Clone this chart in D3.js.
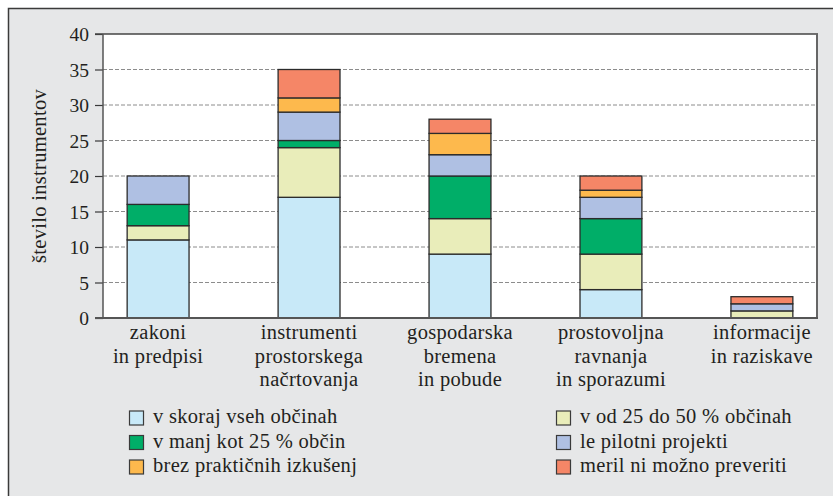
<!DOCTYPE html>
<html lang="sl">
<head>
  <meta charset="UTF-8">
  <title>Število instrumentov</title>
  <script src="https://d3js.org/d3.v7.min.js"></script>
  <style>
    body { margin: 0; background: #fff; }
  </style>
</head>
<body>
  <svg id="chart"></svg>
  <script>
    // categories (multi-line labels)
    const categories = [
      ["zakoni", "in predpisi"],
      ["instrumenti", "prostorskega", "načrtovanja"],
      ["gospodarska", "bremena", "in pobude"],
      ["prostovoljna", "ravnanja", "in sporazumi"],
      ["informacije", "in raziskave"]
    ];
    const seriesNames = [
      "v skoraj vseh občinah",
      "v od 25 do 50 % občinah",
      "v manj kot 25 % občin",
      "le pilotni projekti",
      "brez praktičnih izkušenj",
      "meril ni možno preveriti"
    ];
    // values per series, in category order
    const skorajVseh = [11, 17, 9, 4, 0];
    const od25do50 = [2, 7, 5, 5, 1];
    const manjKot25 = [3, 1, 6, 5, 0];
    const pilotni = [4, 4, 3, 3, 1];
    const brezIzkusenj = [0, 2, 3, 1, 0];
    const niPreveriti = [0, 4, 2, 2, 1];
    const yTicks = [0, 5, 10, 15, 20, 25, 30, 35, 40];

    const colors = ["#c8e9f8", "#e9edba", "#00ae68", "#afc0e3", "#fdb94d", "#f58667"];
    const seriesValues = [skorajVseh, od25do50, manjKot25, pilotni, brezIzkusenj, niPreveriti];

    const W = 833, H = 496;
    const plot = { left: 103, right: 817, top: 34, bottom: 318 };
    const FONT = "'Liberation Serif'";
    const LABEL_SIZE = "20.5px";

    const svg = d3.select("#chart").attr("width", W).attr("height", H);

    // grey panel
    svg.append("rect")
      .attr("x", 8.5).attr("y", 8.5)
      .attr("width", W + 20).attr("height", H + 20)
      .attr("fill", "#e6e7e8")
      .attr("stroke", "#3a3a3a").attr("stroke-width", 1.5);

    svg.append("rect")
      .attr("x", plot.left).attr("y", plot.top)
      .attr("width", plot.right - plot.left).attr("height", plot.bottom - plot.top)
      .attr("fill", "#fff");

    const keys = categories.map((c, i) => "c" + i);
    const table = keys.map((k, i) => {
      const row = { key: k };
      seriesNames.forEach((s, j) => row[s] = seriesValues[j][i]);
      return row;
    });
    const stacked = d3.stack().keys(seriesNames)(table);

    const x = d3.scaleBand()
      .domain(keys)
      .range([plot.left, plot.right])
      .paddingInner(0.59)
      .paddingOuter(0.16);

    const y = d3.scaleLinear()
      .domain([0, 40])
      .range([plot.bottom, plot.top]);

    // gridlines
    svg.append("g")
      .selectAll("line")
      .data(yTicks.filter(t => t > 0 && t < 40))
      .enter().append("line")
      .attr("x1", plot.left).attr("x2", plot.right)
      .attr("y1", d => y(d)).attr("y2", d => y(d))
      .attr("stroke", "#8c8c8c")
      .attr("stroke-width", 1)
      .attr("stroke-dasharray", "4,2");

    // y axis
    const yAxis = svg.append("g")
      .attr("transform", "translate(" + plot.left + ",0)")
      .call(d3.axisLeft(y).tickValues(yTicks).tickSize(8).tickPadding(6));
    yAxis.select(".domain").remove();
    yAxis.selectAll(".tick line").attr("stroke", "#3a3a3a").attr("stroke-width", 1.2);
    yAxis.selectAll(".tick text")
      .attr("dy", "0.34em")
      .style("font-size", "19.5px");

    // bars
    svg.append("g")
      .selectAll("g")
      .data(stacked)
      .enter().append("g")
      .attr("fill", (d, i) => colors[i])
      .selectAll("rect")
      .data(d => d.filter(p => p[1] > p[0]))
      .enter().append("rect")
      .attr("x", d => x(d.data.key))
      .attr("y", d => y(d[1]))
      .attr("width", x.bandwidth())
      .attr("height", d => y(d[0]) - y(d[1]))
      .attr("stroke", "#2b2b2b")
      .attr("stroke-width", 1.3);

    // plot frame
    svg.append("line")
      .attr("x1", plot.left - 8).attr("x2", plot.right + 1)
      .attr("y1", plot.top).attr("y2", plot.top)
      .attr("stroke", "#444").attr("stroke-width", 1.5);
    svg.append("line")
      .attr("x1", plot.right).attr("x2", plot.right)
      .attr("y1", plot.top).attr("y2", plot.bottom)
      .attr("stroke", "#666").attr("stroke-width", 2);
    svg.append("line")
      .attr("x1", plot.left).attr("x2", plot.left)
      .attr("y1", plot.top).attr("y2", plot.bottom)
      .attr("stroke", "#555").attr("stroke-width", 1.5);
    svg.append("line")
      .attr("x1", plot.left - 8).attr("x2", plot.right + 1)
      .attr("y1", plot.bottom).attr("y2", plot.bottom)
      .attr("stroke", "#555").attr("stroke-width", 2);

    // category labels
    const cat = svg.append("g").selectAll("text")
      .data(categories)
      .enter().append("text")
      .attr("class", "lbl")
      .attr("text-anchor", "middle")
      .attr("x", (d, i) => x(keys[i]) + x.bandwidth() / 2)
      .attr("y", 339);
    cat.selectAll("tspan")
      .data(d => d)
      .enter().append("tspan")
      .attr("x", function () { return this.parentNode.getAttribute("x"); })
      .attr("dy", (d, i) => i === 0 ? 0 : 23.5)
      .text(d => d);

    // y axis title
    svg.append("text")
      .attr("class", "lbl")
      .attr("transform", "translate(46,176) rotate(-90)")
      .attr("text-anchor", "middle")
      .text("število instrumentov");

    // legend (two columns)
    const legendOrder = [0, 2, 4, 1, 3, 5];
    const legend = svg.append("g")
      .selectAll("g")
      .data(legendOrder)
      .enter().append("g")
      .attr("transform", (d, i) => "translate(" + (i < 3 ? 129 : 556) + "," + (423 + (i % 3) * 24.5) + ")");
    legend.append("rect")
      .attr("x", 0.5).attr("y", -12)
      .attr("width", 14).attr("height", 14)
      .attr("fill", d => colors[d])
      .attr("stroke", "#3a3a3a").attr("stroke-width", 1.2);
    legend.append("text")
      .attr("class", "lbl")
      .attr("x", 24).attr("y", 0)
      .text(d => seriesNames[d]);

    // one serif face for every text
    svg.selectAll(".lbl")
      .style("font-size", LABEL_SIZE)
      .style("letter-spacing", "0.3px");
    svg.selectAll("text")
      .style("font-family", FONT)
      .style("fill", "#231f20");
  </script>
</body>
</html>
